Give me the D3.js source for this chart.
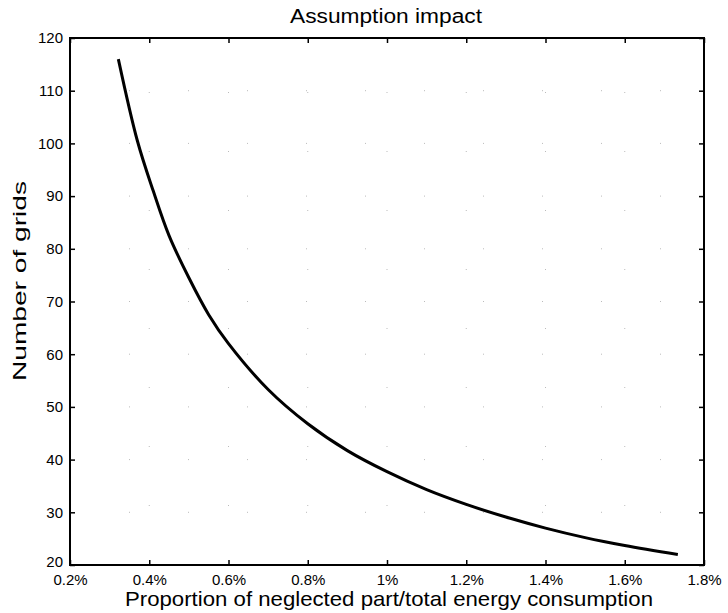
<!DOCTYPE html>
<html>
<head>
<meta charset="utf-8">
<script src="https://cdn.jsdelivr.net/npm/d3@7"></script>
<style>
  body { margin: 0; background: #fff; }
  svg { font-family: "Liberation Sans", Arial, sans-serif; }
</style>
</head>
<body>
<svg width="728" height="613"></svg>
<script>
// proportion (%) and number of grids
const proportion = [0.322, 0.37, 0.41, 0.45, 0.5, 0.55, 0.6, 0.7, 0.8, 0.9, 1.0, 1.1, 1.2, 1.3, 1.4, 1.5, 1.6, 1.734];
const grids = [116, 100.5, 91, 82.5, 74.5, 67.5, 62, 53.3, 46.8, 41.7, 37.7, 34.3, 31.5, 29.1, 27.0, 25.2, 23.7, 22.0];
const xTicks = [0.2, 0.4, 0.6, 0.8, 1, 1.2, 1.4, 1.6, 1.8];
const yTicks = [20, 30, 40, 50, 60, 70, 80, 90, 100, 110, 120];

const margin = { top: 38, right: 24, bottom: 48, left: 70 };
const width = 728, height = 613;

const svg = d3.select("svg");

const x = d3.scaleLinear().domain([0.2, 1.8]).range([margin.left, width - margin.right]);
const y = d3.scaleLinear().domain([20, 120]).range([height - margin.bottom, margin.top]);

// faint dotted grid (what is left of the matlab grid in the scan)
const grid = svg.append("g").attr("stroke", "#bbb").attr("stroke-width", 1).attr("stroke-dasharray", "1,58");
grid.selectAll(".gx").data(xTicks.slice(1, -1)).enter().append("line")
    .attr("x1", d => x(d)).attr("x2", d => x(d))
    .attr("y1", y(20)).attr("y2", y(120));
grid.selectAll(".gy").data(yTicks.slice(1, -1)).enter().append("line")
    .attr("y1", d => y(d)).attr("y2", d => y(d))
    .attr("x1", x(0.2)).attr("x2", x(1.8));

const fmtX = d => d3.format("~g")(d) + "%";

// axes, ticks pointing inward
svg.append("g")
    .attr("transform", `translate(0,${y(20)})`)
    .call(d3.axisBottom(x).tickValues(xTicks).tickSize(-5).tickPadding(9).tickFormat(fmtX))
    .call(g => g.select(".domain").remove());
svg.append("g")
    .attr("transform", `translate(0,${y(120)})`)
    .call(d3.axisTop(x).tickValues(xTicks).tickSize(-5).tickFormat(""))
    .call(g => g.select(".domain").remove());
const yAxis = svg.append("g")
    .attr("transform", `translate(${x(0.2)},0)`)
    .call(d3.axisLeft(y).tickValues(yTicks).tickSize(-5).tickPadding(7))
    .call(g => g.select(".domain").remove());
svg.append("g")
    .attr("transform", `translate(${x(1.8)},0)`)
    .call(d3.axisRight(y).tickValues(yTicks).tickSize(-5).tickFormat(""))
    .call(g => g.select(".domain").remove());

svg.selectAll(".tick line").attr("stroke", "#000").attr("stroke-width", 1.5);
svg.selectAll(".tick text").attr("font-size", 15).attr("fill", "#000")
    .attr("font-family", "'Liberation Sans', Arial, sans-serif");
// lowest y label sits a little high so it clears 0.2%
yAxis.selectAll(".tick text").filter(d => d === 20).attr("dy", "0.1em");

// box
svg.append("rect")
    .attr("x", x(0.2)).attr("y", y(120))
    .attr("width", x(1.8) - x(0.2)).attr("height", y(20) - y(120))
    .attr("fill", "none").attr("stroke", "#000").attr("stroke-width", 2);

// curve
const line = d3.line().x((d, i) => x(proportion[i])).y(d => y(d)).curve(d3.curveCatmullRom);
svg.append("path")
    .datum(grids)
    .attr("d", line)
    .attr("fill", "none")
    .attr("stroke", "#000")
    .attr("stroke-width", 3);

// labels
svg.append("text")
    .attr("x", 386).attr("y", 23)
    .attr("text-anchor", "middle").attr("font-size", 20)
    .attr("textLength", 192).attr("lengthAdjust", "spacingAndGlyphs")
    .text("Assumption impact");

svg.append("text")
    .attr("x", 389).attr("y", 606)
    .attr("text-anchor", "middle").attr("font-size", 21)
    .attr("textLength", 528).attr("lengthAdjust", "spacingAndGlyphs")
    .text("Proportion of neglected part/total energy consumption");

svg.append("text")
    .attr("transform", "translate(26,281) rotate(-90)")
    .attr("text-anchor", "middle").attr("font-size", 19)
    .attr("textLength", 200).attr("lengthAdjust", "spacingAndGlyphs")
    .text("Number of grids");
</script>
</body>
</html>
